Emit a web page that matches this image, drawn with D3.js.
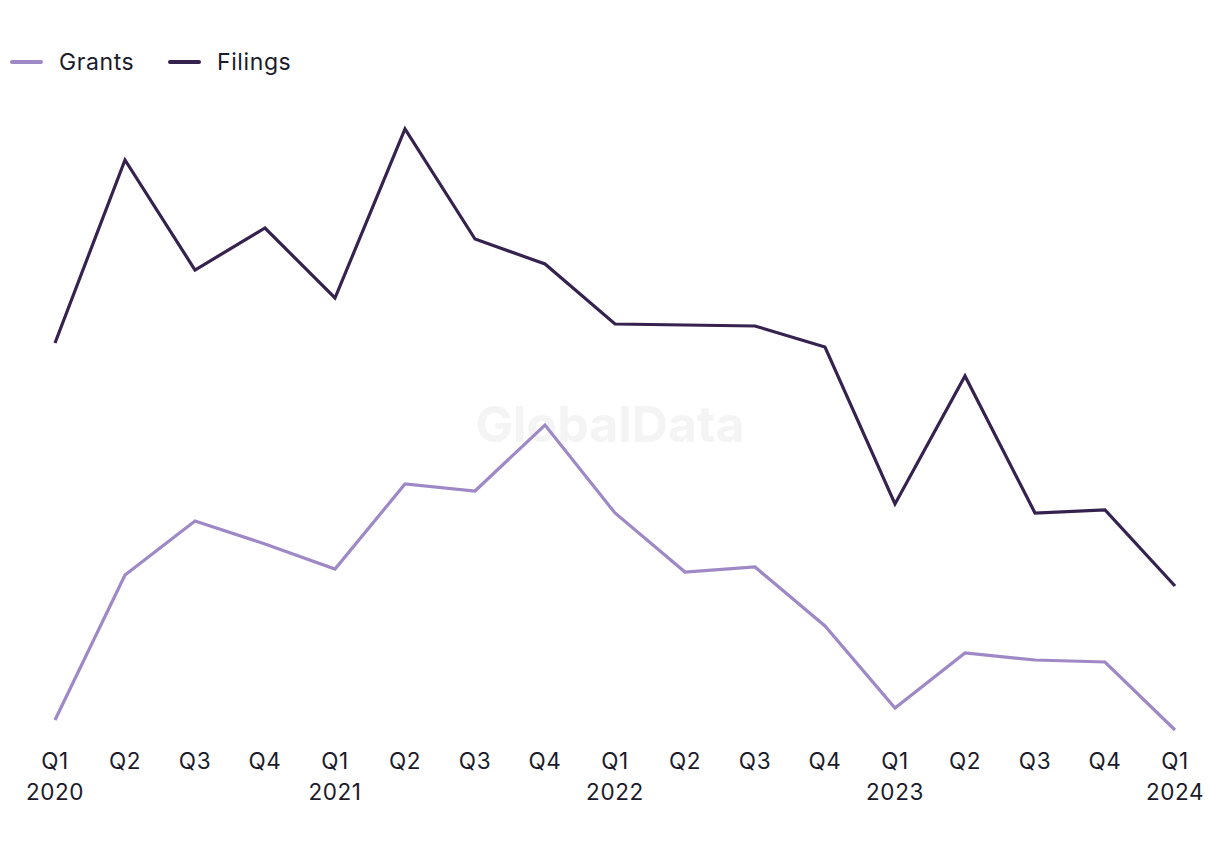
<!DOCTYPE html>
<html><head><meta charset="utf-8">
<script src="https://cdn.jsdelivr.net/npm/d3@7"></script>
<style>body{margin:0;background:#fff;} svg{display:block;font-family:Inter,"Noto Sans",sans-serif;}</style>
</head><body>
<svg id="chart" width="1220" height="850"></svg>
<script>
const quarters = ["Q1","Q2","Q3","Q4","Q1","Q2","Q3","Q4","Q1","Q2","Q3","Q4","Q1","Q2","Q3","Q4","Q1"];
const years = ["2020","","","","2021","","","","2022","","","","2023","","","","2024"];
const filings = [40.7,59.0,48.0,52.2,45.2,62.1,51.1,48.6,42.6,42.5,42.4,40.3,24.6,37.4,23.7,24.0,16.4];
const grants = [3.0,17.5,22.9,20.6,18.1,26.6,25.9,32.5,23.7,17.8,18.3,12.4,4.2,9.7,9.0,8.8,2.0];
const seriesNames = ["Grants","Filings"];
const colors = {Grants:"#9f88c6", Filings:"#36224f"};

const svg = d3.select("#chart");
const idx = d3.range(quarters.length);
const x = d3.scalePoint().domain(idx).range([55,1175]);
const y = d3.scaleLinear().domain([0,65]).range([750,100]);

// watermark
svg.append("text").attr("x",610).attr("y",442).attr("text-anchor","middle")
  .attr("font-size",50).attr("font-weight",700).attr("fill","#f4f4f4").text("GlobalData");

const line = d3.line().x((d,i)=>x(i)).y(d=>y(d));
svg.append("path").datum(grants).attr("d",line).attr("fill","none")
  .attr("stroke",colors.Grants).attr("stroke-width",3.2).attr("stroke-linejoin","miter");
svg.append("path").datum(filings).attr("d",line).attr("fill","none")
  .attr("stroke",colors.Filings).attr("stroke-width",3.2).attr("stroke-linejoin","miter");

// x axis labels
const ax = svg.append("g").attr("font-size",22.5).attr("letter-spacing","0.6px").attr("fill","#1b1b2b");
idx.forEach(i=>{
  ax.append("text").attr("x",x(i)).attr("y",769).attr("text-anchor","middle").text(quarters[i]);
  if(years[i]) ax.append("text").attr("x",x(i)).attr("y",800).attr("text-anchor","middle").text(years[i]);
});

// legend
const legX = [10,168];
seriesNames.forEach((n,k)=>{
  const g = svg.append("g").attr("transform",`translate(${legX[k]},62)`);
  g.append("line").attr("x1",2).attr("x2",31).attr("y1",0).attr("y2",0)
    .attr("stroke",colors[n]).attr("stroke-width",4).attr("stroke-linecap","round");
  g.append("text").attr("x",49).attr("y",8).attr("font-size",23).attr("letter-spacing","0.6px")
    .attr("fill","#1b1b2b").text(n);
});
</script>
</body></html>
